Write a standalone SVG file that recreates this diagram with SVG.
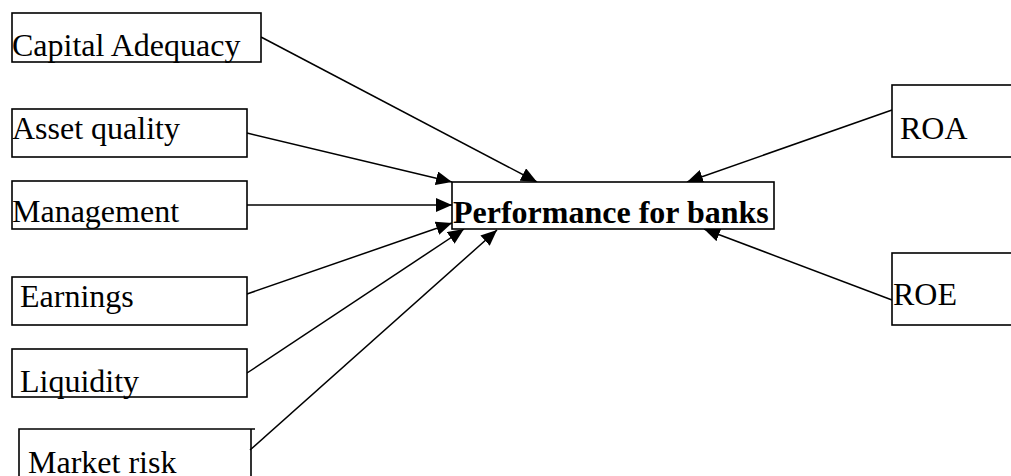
<svg xmlns="http://www.w3.org/2000/svg" width="1011" height="476" viewBox="0 0 1011 476">
  <style>
    .box { fill: #ffffff; stroke: #000000; stroke-width: 1.6; }
    .lbl { font-family: "Liberation Serif", "Times New Roman", serif; font-size: 32px; fill: #000000; }
    .bold { font-weight: bold; }
    .conn { stroke: #000000; stroke-width: 1.5; fill: none; marker-end: url(#arrow); }
  </style>
  <defs>
    <marker id="arrow" markerUnits="userSpaceOnUse" markerWidth="16" markerHeight="14" refX="16" refY="7" orient="auto">
      <path d="M0,0 L16,7 L0,14 z" fill="#000000"/>
    </marker>
  </defs>
  <rect width="1011" height="476" fill="#ffffff"/>

  <!-- connectors: every factor points into the central box -->
  <g id="connectors">
    <line class="conn" x1="261" y1="37" x2="537" y2="182"/>
    <line class="conn" x1="247" y1="133" x2="452" y2="182"/>
    <line class="conn" x1="247" y1="205" x2="452" y2="205"/>
    <line class="conn" x1="247" y1="294" x2="452" y2="223"/>
    <line class="conn" x1="247" y1="373" x2="464" y2="229"/>
    <line class="conn" x1="250" y1="450" x2="497" y2="230"/>
    <line class="conn" x1="892" y1="110" x2="687" y2="182"/>
    <line class="conn" x1="892" y1="300" x2="704" y2="229"/>
  </g>

  <g id="capital-adequacy">
    <rect class="box" x="12" y="13" width="249" height="49"/>
    <text class="lbl" x="12" y="56">Capital Adequacy</text>
  </g>
  <g id="asset-quality">
    <rect class="box" x="12" y="109" width="235" height="48"/>
    <text class="lbl" x="12" y="139">Asset quality</text>
  </g>
  <g id="management">
    <rect class="box" x="12" y="181" width="235" height="48"/>
    <text class="lbl" x="12" y="222">Management</text>
  </g>
  <g id="earnings">
    <rect class="box" x="12" y="277" width="235" height="48"/>
    <text class="lbl" x="20" y="307">Earnings</text>
  </g>
  <g id="liquidity">
    <rect class="box" x="12" y="349" width="235" height="48"/>
    <text class="lbl" x="20" y="392">Liquidity</text>
  </g>
  <g id="market-risk">
    <path class="box" d="M19,480 L19,429 L255,429 M251,429 L251,480"/>
    <text class="lbl" x="28" y="473">Market risk</text>
  </g>
  <g id="performance">
    <rect class="box" x="452" y="182" width="322" height="47"/>
    <text class="lbl bold" x="453" y="223">Performance for banks</text>
  </g>
  <g id="roa">
    <rect class="box" x="892" y="85" width="130" height="72"/>
    <text class="lbl" x="900" y="139">ROA</text>
  </g>
  <g id="roe">
    <rect class="box" x="892" y="253" width="130" height="72"/>
    <text class="lbl" x="893" y="305">ROE</text>
  </g>
</svg>
